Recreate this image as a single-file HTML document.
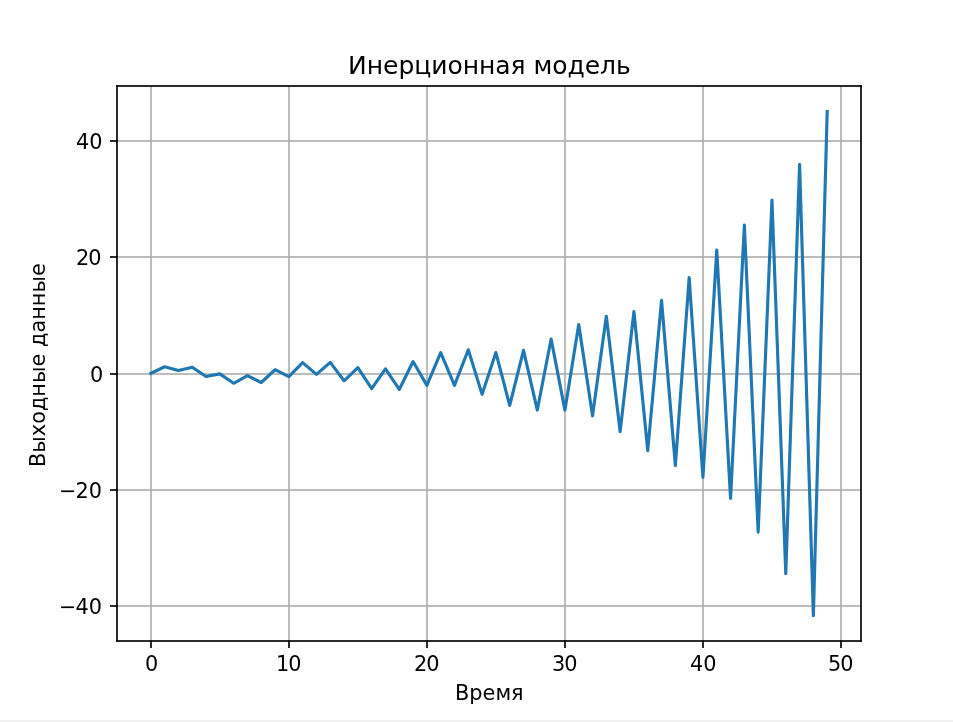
<!DOCTYPE html>
<html lang="ru">
<head>
<meta charset="utf-8">
<title>Инерционная модель</title>
<style>
html,body{margin:0;padding:0;background:#f0f0f0;}
body{width:953px;height:722px;overflow:hidden;position:relative;}
#fig{position:absolute;left:-3px;top:0;width:960px;height:720px;background:#fff;}
#fig svg{display:block;}
</style>
</head>
<body>
<div id="fig">
<svg width="960" height="720" viewBox="0 0 960 720">
<rect x="0" y="0" width="960" height="720" fill="#ffffff"/>
<defs><clipPath id="axclip"><rect x="120" y="86.4" width="744" height="554.4"/></clipPath></defs>
<g stroke="#b0b0b0" stroke-width="1.667" fill="none" clip-path="url(#axclip)">
<line x1="154" y1="86.4" x2="154" y2="640.8"/>
<line x1="292" y1="86.4" x2="292" y2="640.8"/>
<line x1="430" y1="86.4" x2="430" y2="640.8"/>
<line x1="568" y1="86.4" x2="568" y2="640.8"/>
<line x1="706" y1="86.4" x2="706" y2="640.8"/>
<line x1="844" y1="86.4" x2="844" y2="640.8"/>
</g>
<g fill="#b0b0b0" fill-opacity="0.8333" stroke="none">
<rect x="120" y="605" width="744" height="2"/>
<rect x="120" y="489" width="744" height="2"/>
<rect x="120" y="373" width="744" height="2"/>
<rect x="120" y="256" width="744" height="2"/>
<rect x="120" y="140" width="744" height="2"/>
</g>
<polyline points="153.82,373.51 167.62,366.77 181.42,370.60 195.23,367.23 209.03,376.47 222.83,373.86 236.64,383.28 250.44,375.66 264.24,382.52 278.05,369.73 291.85,376.71 305.65,362.64 319.46,374.38 333.26,362.41 347.06,380.78 360.87,367.64 374.67,388.62 388.47,368.80 402.28,389.49 416.08,361.54 429.88,385.37 443.69,352.59 457.49,385.37 471.29,349.74 485.10,394.38 498.90,352.59 512.71,405.30 526.51,350.38 540.31,410.07 554.12,338.98 567.92,410.13 581.72,324.57 595.53,415.83 609.33,316.20 623.13,431.58 636.94,311.55 650.74,450.58 664.54,300.39 678.35,465.52 692.15,277.66 705.95,477.44 719.76,250.17 733.56,498.48 747.36,225.00 761.17,532.13 774.97,200.18 788.77,573.63 802.58,164.20 816.38,615.60 830.18,111.60" fill="none" stroke="#1f77b4" stroke-width="3.125" stroke-linejoin="round" stroke-linecap="square" clip-path="url(#axclip)"/>
<g stroke="#000000" stroke-width="1.667" fill="none">
<line x1="120" y1="86" x2="120" y2="641"/>
<line x1="864" y1="86" x2="864" y2="641"/>
</g>
<g fill="#000000" fill-opacity="0.8333" stroke="none">
<rect x="119.167" y="85" width="1.667" height="1"/>
<rect x="119.167" y="641" width="1.667" height="1"/>
<rect x="863.167" y="85" width="1.667" height="1"/>
<rect x="863.167" y="641" width="1.667" height="1"/>
<rect x="119.167" y="640" width="745.667" height="2"/>
<rect x="119.167" y="85" width="745.667" height="2"/>
</g>
<g stroke="#000000" stroke-width="1.667" fill="none">
<line x1="154" y1="640.75" x2="154" y2="648"/>
<line x1="292" y1="640.75" x2="292" y2="648"/>
<line x1="430" y1="640.75" x2="430" y2="648"/>
<line x1="568" y1="640.75" x2="568" y2="648"/>
<line x1="706" y1="640.75" x2="706" y2="648"/>
<line x1="844" y1="640.75" x2="844" y2="648"/>
</g>
<g fill="#000000" fill-opacity="0.8333" stroke="none">
<rect x="113" y="605" width="7.2" height="2"/>
<rect x="113" y="489" width="7.2" height="2"/>
<rect x="113" y="373" width="7.2" height="2"/>
<rect x="113" y="256" width="7.2" height="2"/>
<rect x="113" y="140" width="7.2" height="2"/>
</g>
<g font-family="'DejaVu Sans', 'Liberation Sans', sans-serif" font-size="20.833" fill="#000000">
<text x="147.877" y="671.31">0</text>
<text x="278.917 291.167" y="671.31">10</text>
<text x="416.912 429.162" y="671.31">20</text>
<text x="554.92 567.17" y="671.31">30</text>
<text x="692.922 706.172" y="671.31">40</text>
<text x="830.93 843.18" y="671.31">50</text>
<text x="61.996 78.434 91.699" y="613.95">−40</text>
<text x="61.951 78.576 91.654" y="497.68">−20</text>
<text x="92.879" y="381.93">0</text>
<text x="78.882 91.132" y="265.21">20</text>
<text x="78.917 92.167" y="148.97">40</text>
<text x="457.893 472.175 485.393 498.393 514.112" y="699.70">Время</text>
<text transform="translate(47.76,364.54) rotate(-90)" x="-102.555 -88.273 -71.836 -59.258 -46.57 -32.164 -18.492 -1.852 11.398 17.57 31.977 44.68 58.227 72.039 88.477" y="0">Выходные данные</text>
<text x="350.98 369.667 385.886 401.402 417.136 434.167 450.402 465.698 481.917 498.136 513.464 529.245 536.448 555.183 570.48 587.698 602.902 618.933" y="73.86" font-size="25.000">Инерционная модель</text>
</g>
</svg>
</div>
</body>
</html>
